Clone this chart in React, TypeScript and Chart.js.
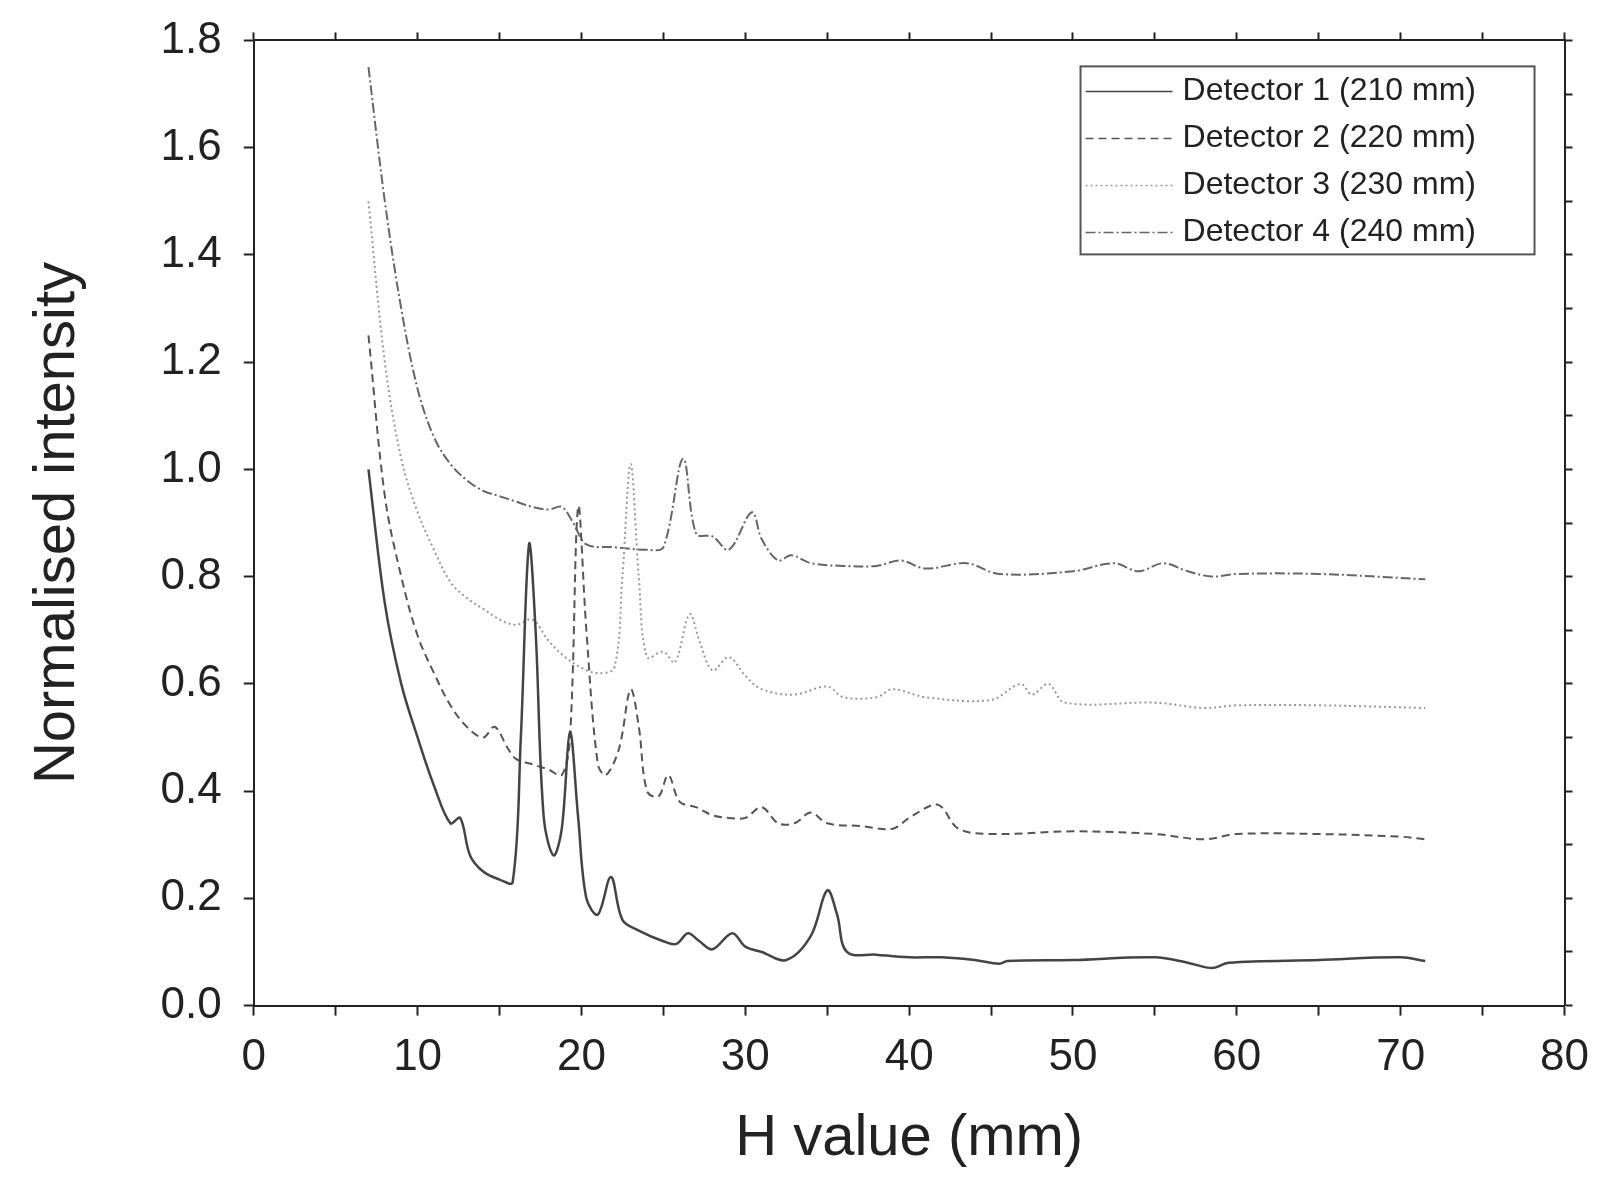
import React, { useEffect, useRef } from 'react';
import Chart from 'chart.js/auto';

const d1x = [7, 8, 9, 10, 11, 12, 12.6, 13.2, 14, 15, 15.8, 16.3, 16.8, 17.2, 17.7, 18.3, 18.8, 19.3, 19.8, 20.3, 21, 21.8, 22.5, 23.5, 25, 25.8, 26.5, 27.2, 28, 29.2, 30, 31, 32.5, 34, 35, 35.6, 36.2, 38, 40, 42, 44, 45.5, 46, 50, 55, 57, 58.5, 59.5, 65, 70, 71.5];
const d1y = [1.0, 0.75, 0.6, 0.5, 0.41, 0.34, 0.35, 0.28, 0.25, 0.235, 0.23, 0.5, 0.86, 0.7, 0.35, 0.28, 0.33, 0.51, 0.35, 0.2, 0.17, 0.24, 0.16, 0.14, 0.12, 0.115, 0.135, 0.12, 0.105, 0.135, 0.11, 0.1, 0.085, 0.13, 0.215, 0.17, 0.1, 0.095, 0.09, 0.09, 0.085, 0.078, 0.083, 0.085, 0.09, 0.08, 0.07, 0.08, 0.085, 0.09, 0.083];

const d2x = [7, 8, 9, 10, 11, 12, 13, 14, 14.7, 15.5, 16, 17, 18, 18.8, 19.3, 19.8, 20.3, 21, 21.5, 22.3, 23, 23.5, 24, 24.7, 25.3, 26, 27, 28, 29, 30, 31, 32, 33, 34, 35, 37, 39, 40, 41.5, 42, 43, 45, 50, 55, 58, 60, 65, 70, 71.5];
const d2y = [1.25, 0.95, 0.8, 0.69, 0.62, 0.56, 0.52, 0.5, 0.52, 0.48, 0.46, 0.45, 0.44, 0.43, 0.5, 0.93, 0.7, 0.45, 0.43, 0.48, 0.59, 0.52, 0.4, 0.39, 0.43, 0.38, 0.37, 0.355, 0.35, 0.35, 0.37, 0.34, 0.34, 0.36, 0.34, 0.335, 0.33, 0.35, 0.375, 0.37, 0.33, 0.32, 0.325, 0.32, 0.31, 0.32, 0.32, 0.315, 0.31];

const d3x = [7, 8, 9, 10, 11, 12, 13, 14, 15, 16, 17, 18, 19, 20, 21, 22, 22.5, 23, 23.5, 24, 25, 25.7, 26.6, 27.2, 28, 29, 30, 31, 33, 35, 36, 38, 39, 41, 45, 46.8, 47.5, 48.5, 49.5, 55, 58, 60, 65, 71.5];
const d3y = [1.5, 1.2, 1.02, 0.92, 0.85, 0.79, 0.76, 0.74, 0.72, 0.71, 0.72, 0.68, 0.65, 0.63, 0.62, 0.63, 0.8, 1.01, 0.8, 0.65, 0.66, 0.64, 0.73, 0.68, 0.625, 0.65, 0.615, 0.59, 0.58, 0.595, 0.575, 0.575, 0.59, 0.575, 0.57, 0.6, 0.58, 0.6, 0.565, 0.565, 0.555, 0.56, 0.56, 0.555];

const d4x = [7, 8, 9, 10, 11, 12, 13, 14, 15, 16, 17, 18, 18.8, 19.5, 20.3, 22, 24, 25, 26.2, 27, 28, 29, 30.4, 31, 32, 32.8, 34, 36, 38, 39.5, 41, 43.5, 45.5, 50, 52.5, 54, 55.5, 57, 58.5, 60, 65, 71.5];
const d4y = [1.75, 1.5, 1.3, 1.15, 1.06, 1.01, 0.98, 0.96, 0.95, 0.94, 0.93, 0.925, 0.93, 0.9, 0.86, 0.855, 0.85, 0.855, 1.02, 0.88, 0.875, 0.85, 0.92, 0.87, 0.83, 0.84, 0.825, 0.82, 0.82, 0.83, 0.815, 0.825, 0.805, 0.81, 0.825, 0.81, 0.825, 0.81, 0.8, 0.805, 0.805, 0.795];

const labels = ['Detector 1 (210 mm)', 'Detector 2 (220 mm)', 'Detector 3 (230 mm)', 'Detector 4 (240 mm)'];
const colors = ['#444', '#555', '#999', '#666'];
const dashes = [[], [8, 5], [2, 3], [10, 3, 2, 3]];

const FONT = 'Liberation Sans, Arial, sans-serif';

const pts = (xs: number[], ys: number[]) => xs.map((x, i) => ({ x, y: ys[i] }));

const insideLegend = {
  id: 'insideLegend',
  afterDraw(chart: any) {
    const { ctx, chartArea } = chart;
    const w = 454, h = 188, x0 = chartArea.right - w - 30, y0 = chartArea.top + 26;
    ctx.save();
    ctx.fillStyle = '#fff';
    ctx.fillRect(x0, y0, w, h);
    ctx.strokeStyle = '#555';
    ctx.lineWidth = 2;
    ctx.strokeRect(x0, y0, w, h);
    ctx.font = `32px ${FONT}`;
    ctx.textBaseline = 'middle';
    chart.data.datasets.forEach((ds: any, i: number) => {
      const y = y0 + 25 + i * 47;
      ctx.strokeStyle = ds.borderColor;
      ctx.lineWidth = 1.5;
      ctx.setLineDash(ds.borderDash);
      ctx.beginPath();
      ctx.moveTo(x0 + 5, y);
      ctx.lineTo(x0 + 92, y);
      ctx.stroke();
      ctx.setLineDash([]);
      ctx.fillStyle = '#222';
      ctx.fillText(ds.label, x0 + 102, y);
    });
    ctx.restore();
  },
};

const tickOpts = (show: boolean, step: number, major: number) => ({
  display: show,
  stepSize: step,
  color: '#222',
  font: { family: FONT, size: 44 },
  padding: 8,
  callback: (v: number) => {
    const r = Math.round(v / step) * step;
    if (Math.abs(r / major - Math.round(r / major)) > 1e-6) return '';
    return major < 1 ? r.toFixed(1) : String(Math.round(r));
  },
});

export default function App() {
  const ref = useRef<HTMLCanvasElement>(null);
  useEffect(() => {
    const series = [pts(d1x, d1y), pts(d2x, d2y), pts(d3x, d3y), pts(d4x, d4y)];
    const c = new Chart(ref.current!, {
      type: 'line',
      data: {
        datasets: series.map((data, i) => ({
          label: labels[i],
          data,
          borderColor: colors[i],
          borderDash: dashes[i],
          borderWidth: i === 0 ? 2.5 : 2,
          pointRadius: 0,
          tension: 0.35,
          fill: false,
        })),
      },
      options: {
        animation: false,
        responsive: false,
        layout: { padding: { top: 0, right: 21, left: 15, bottom: 0 } },
        plugins: { legend: { display: false }, tooltip: { enabled: false } },
        scales: {
          x: {
            type: 'linear', min: 0, max: 80,
            ticks: { ...tickOpts(true, 5, 10), padding: 16 },
            grid: { drawOnChartArea: false, color: '#222', tickLength: 10, tickWidth: 2 },
            border: { color: '#222', width: 2 },
            title: { display: true, text: 'H value (mm)', color: '#222', font: { family: FONT, size: 58 }, padding: { top: 4, bottom: 6 } },
          },
          x2: {
            type: 'linear', position: 'top', min: 0, max: 80,
            ticks: tickOpts(false, 5, 10),
            grid: { drawOnChartArea: false, color: '#222', tickLength: 8, tickWidth: 2 },
            border: { color: '#222', width: 2 },
          },
          y: {
            min: 0, max: 1.8,
            ticks: { ...tickOpts(true, 0.1, 0.2), padding: 22 },
            grid: { drawOnChartArea: false, color: '#222', tickLength: 10, tickWidth: 2 },
            border: { color: '#222', width: 2 },
            title: { display: true, text: 'Normalised intensity', color: '#222', font: { family: FONT, size: 58 }, padding: { top: 0, bottom: 46 } },
          },
          y2: {
            position: 'right', min: 0, max: 1.8,
            ticks: tickOpts(false, 0.1, 0.2),
            grid: { drawOnChartArea: false, color: '#222', tickLength: 8, tickWidth: 2 },
            border: { color: '#222', width: 2 },
          },
        },
      },
      plugins: [insideLegend],
    });
    return () => c.destroy();
  }, []);
  return (
    <div style={{ width: 1592, height: 1169, overflow: 'hidden' }}>
      <canvas ref={ref} width={1597} height={1188} style={{ display: 'block', marginTop: -16 }} />
    </div>
  );
}
